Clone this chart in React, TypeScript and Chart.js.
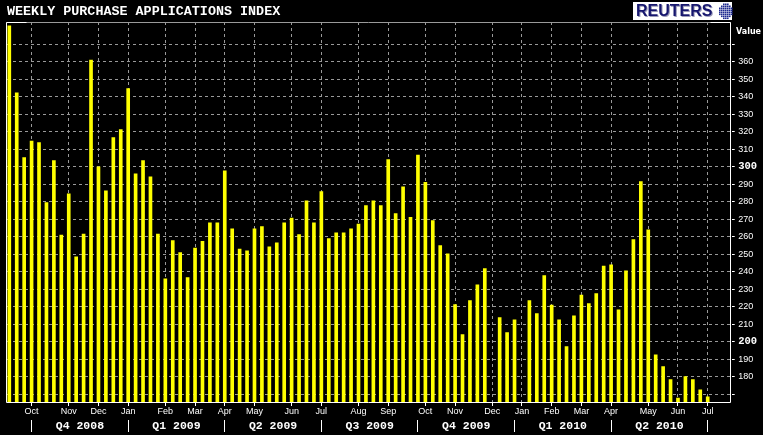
import { useEffect, useRef } from "react";
import { Chart, registerables } from "chart.js";

Chart.register(...registerables);

const TITLE = "WEEKLY PURCHASE APPLICATIONS INDEX";
const Y_TITLE = "Value";
const BRAND = "REUTERS";

// weekly index values, one per week (null = below the visible range)
const values: (number | null)[] = [
  380.5, 342.3, 305.2, 314.7, 313.8, 279.5, 303.5, 261.0, 284.5, 248.6,
  261.6, 361.0, 300.0, 286.2, 316.6, 321.2, 344.6, 296.0, 303.5, 294.3,
  261.6, 235.9, 257.8, 250.9, 236.7, 253.6, 257.4, 268.0, 268.0, 297.6,
  264.5, 253.0, 252.0, 264.6, 265.8, 254.3, 256.6, 268.0, 270.7, 261.2,
  280.6, 268.0, 285.8, 258.9, 262.3, 262.3, 264.6, 267.3, 277.8, 280.6,
  277.8, 304.1, 273.2, 288.6, 271.1, 306.6, 291.1, 269.2, 254.9, 250.3,
  221.2, 204.1, 223.5, 232.6, 241.8, null, 213.8, 205.2, 212.5, null,
  223.5, 216.1, 237.8, 221.0, 212.6, 197.2, 214.9, 226.7, 221.8, 227.5,
  243.3, 243.9, 218.3, 240.6, 258.4, 291.5, 263.9, 192.6, 185.8, 178.4,
  167.9, 180.1, 178.4, 172.6, 168.6,
];

// week index where each month label sits
const monthTickIdx = [3, 8, 12, 16, 21, 25, 29, 33, 38, 42, 47, 51, 56, 60, 65, 69, 73, 77, 81, 86, 90, 94];
const monthLabels = [
  "Oct", "Nov", "Dec", "Jan", "Feb", "Mar", "Apr", "May", "Jun", "Jul", "Aug",
  "Sep", "Oct", "Nov", "Dec", "Jan", "Feb", "Mar", "Apr", "May", "Jun", "Jul",
];

// quarter boundaries (week index) and labels
const quarterBounds = [3, 16, 29, 42, 55, 68, 81, 94];
const quarterLabels = ["Q4 2008", "Q1 2009", "Q2 2009", "Q3 2009", "Q4 2009", "Q1 2010", "Q2 2010"];

const yTicks = [170, 180, 190, 200, 210, 220, 230, 240, 250, 260, 270, 280, 290, 300, 310, 320, 330, 340, 350, 360, 370];
const yHiddenLabels = [170, 370];
const Y_MIN = 165.6;
const Y_MAX = 382.7;
const X_MIN = -0.31;
const X_MAX = 97.23;

const overlay = {
  id: "overlay",
  beforeDraw(chart: any) {
    const { ctx, width, height } = chart;
    ctx.save();
    ctx.fillStyle = "#000";
    ctx.fillRect(0, 0, width, height);
    ctx.restore();
  },
  afterDraw(chart: any) {
    const { ctx, chartArea: a } = chart;
    const x = chart.scales.x;
    ctx.save();
    ctx.lineWidth = 1;
    const L = Math.floor(a.left) - 0.5;
    const R = Math.floor(a.right) - 0.5;
    const T = Math.floor(a.top) + 0.5;
    const B = Math.floor(a.bottom) + 0.5;
    // top border (gray with white ends)
    ctx.strokeStyle = "#9a9a9a";
    ctx.beginPath();
    ctx.moveTo(L, T);
    ctx.lineTo(R, T);
    ctx.stroke();
    ctx.strokeStyle = "#ffffff";
    ctx.beginPath();
    ctx.moveTo(L, T);
    ctx.lineTo(L + 20, T);
    ctx.moveTo(R - 20, T);
    ctx.lineTo(R, T);
    ctx.stroke();
    // left, bottom, right borders
    ctx.beginPath();
    ctx.moveTo(L, T);
    ctx.lineTo(L, B);
    ctx.lineTo(R, B);
    ctx.lineTo(R, T);
    ctx.stroke();

    // quarter separators
    ctx.strokeStyle = "#ffffff";
    ctx.beginPath();
    quarterBounds.forEach((b) => {
      const px = Math.floor(x.getPixelForValue(b)) + 0.5;
      ctx.moveTo(px, 420);
      ctx.lineTo(px, 432);
    });
    ctx.stroke();

    // quarter labels
    ctx.fillStyle = "#ffffff";
    ctx.font = "bold 11.5px 'Liberation Mono', monospace";
    ctx.textAlign = "center";
    ctx.textBaseline = "middle";
    quarterLabels.forEach((lab, i) => {
      const cx = (x.getPixelForValue(quarterBounds[i]) + x.getPixelForValue(quarterBounds[i + 1])) / 2;
      ctx.fillText(lab, cx, 426.5);
    });

    // axis title
    ctx.font = "bold 8px 'DejaVu Sans', sans-serif";
    ctx.textAlign = "left";
    ctx.fillText(Y_TITLE, 736, 31.5);

    // chart title
    ctx.font = "bold 13.4px 'Liberation Mono', monospace";
    ctx.textAlign = "left";
    ctx.fillText(TITLE, 7, 11.5);

    // brand logo
    ctx.fillStyle = "#ffffff";
    ctx.fillRect(633, 2, 99, 18);
    ctx.font = "bold 16px 'Liberation Sans', Arial, sans-serif";
    ctx.textBaseline = "alphabetic";
    ctx.fillStyle = "#9a9ab8";
    ctx.fillText(BRAND, 637, 17);
    ctx.fillStyle = "#16166e";
    ctx.fillText(BRAND, 636, 16);
    // globe of dots
    const cx = 725, cy = 10.5;
    for (let gx = -6; gx <= 6; gx += 2) {
      for (let gy = -7; gy <= 7; gy += 2) {
        if ((gx * gx) / 49 + (gy * gy) / 64 > 1) continue;
        const orange = (gx + gy) % 4 === 0 && gx < 2;
        ctx.fillStyle = orange ? "#f0a020" : "#1e2a90";
        ctx.fillRect(cx + gx, cy + gy, 1.6, 1.6);
      }
    }
    ctx.restore();
  },
};

export default function App() {
  const ref = useRef<HTMLCanvasElement | null>(null);

  useEffect(() => {
    if (!ref.current) return;
    const data = values.map((v, i) => ({ x: i, y: v }));
    const chart = new Chart(ref.current, {
      type: "bar",
      data: {
        datasets: [
          {
            data: data as any,
            backgroundColor: "#ffff00",
            borderWidth: 0,
            barThickness: 3,
          },
        ],
      },
      options: {
        responsive: false,
        maintainAspectRatio: false,
        animation: false,
        devicePixelRatio: 1,
        layout: { padding: { left: 7, top: 22, right: 0, bottom: 0 } },
        plugins: {
          legend: { display: false },
          tooltip: { enabled: false },
          title: { display: false },
        },
        scales: {
          x: {
            type: "linear",
            position: "bottom",
            min: X_MIN,
            max: X_MAX,
            offset: false,
            afterBuildTicks: (axis: any) => {
              axis.ticks = monthTickIdx.map((v) => ({ value: v }));
            },
            afterFit: (axis: any) => {
              axis.height = 33;
            },
            ticks: {
              autoSkip: false,
              maxRotation: 0,
              minRotation: 0,
              padding: 0,
              color: "#ffffff",
              font: { family: "'Liberation Sans', sans-serif", size: 9 },
              callback: (v: any) => monthLabels[monthTickIdx.indexOf(Number(v))] ?? "",
            },
            grid: {
              offset: false,
              color: "#999999",
              lineWidth: 1,
              drawTicks: true,
              tickLength: 4,
              tickColor: "#ffffff",
            },
            border: { display: false, dash: [3, 3] },
          },
          y: {
            type: "linear",
            position: "right",
            min: Y_MIN,
            max: Y_MAX,
            beginAtZero: false,
            afterBuildTicks: (axis: any) => {
              axis.ticks = yTicks.map((v) => ({ value: v }));
            },
            afterFit: (axis: any) => {
              axis.width = 31.3;
            },
            ticks: {
              padding: 3.5,
              color: "#ffffff",
              font: (ctx: any) =>
                ctx.tick && ctx.tick.value % 100 === 0
                  ? { family: "'Liberation Mono', monospace", size: 10.5, weight: "bold" }
                  : { family: "'Liberation Sans', sans-serif", size: 9 },
              callback: (v: any) => (yHiddenLabels.includes(Number(v)) ? "" : String(v)),
            },
            grid: {
              color: "#999999",
              lineWidth: 1,
              drawTicks: true,
              tickLength: 3,
              tickColor: "#ffffff",
            },
            border: { display: false, dash: [3, 3] },
          },
        },
      } as any,
      plugins: [overlay],
    });
    return () => chart.destroy();
  }, []);

  return (
    <div style={{ position: "absolute", left: 0, top: 0, width: 763, height: 435, background: "#000" }}>
      <canvas ref={ref} width={763} height={435} style={{ width: 763, height: 435, display: "block" }} />
    </div>
  );
}
